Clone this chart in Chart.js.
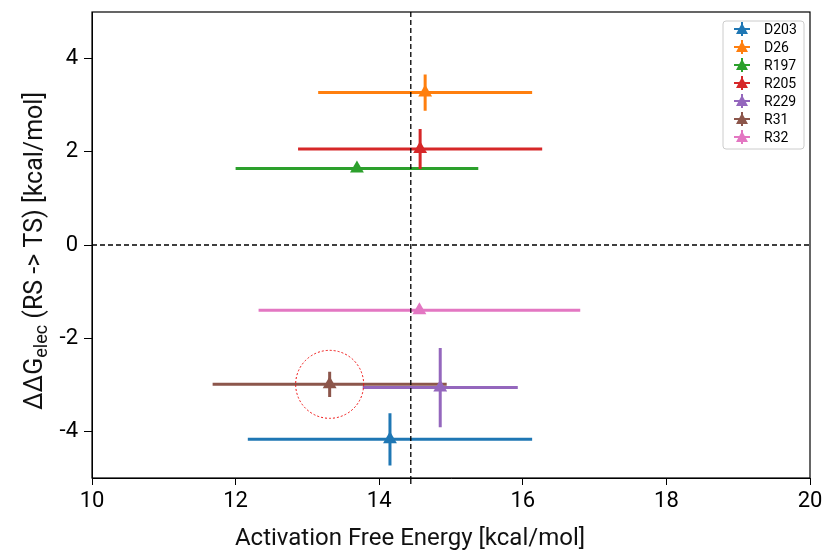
<!DOCTYPE html>
<html>
<head>
<meta charset="utf-8">
<script src="https://cdn.jsdelivr.net/npm/chart.js@4"></script>
<style>
  html, body { margin: 0; padding: 0; background: #fff; }
  #wrap { width: 823px; height: 550px; }
</style>
</head>
<body>
<div id="wrap"><canvas id="myChart" width="823" height="550"></canvas></div>
<script>
const labels = ["D203", "D26", "R197", "R205", "R229", "R31", "R32"];
const xValues = [14.15, 14.64, 13.69, 14.57, 14.85, 13.31, 14.56];
const yValues = [-4.17, 3.27, 1.64, 2.06, -3.06, -2.99, -1.40];
const xErrors = [1.98, 1.49, 1.69, 1.70, 1.08, 1.63, 2.24];
const yErrors = [0.56, 0.39, 0.05, 0.43, 0.85, 0.27, 0.05];
const pointColors = ["#1f77b4", "#ff7f0e", "#2ca02c", "#d62728", "#9467bd", "#8c564b", "#e377c2"];
const xTicks = [10, 12, 14, 16, 18, 20];
const yTicks = [-4, -2, 0, 2, 4];
const refX = 14.44;   // vertical dashed line
const refY = 0;       // horizontal dashed line
const circled = 5;    // index of the circled point (R31)

const FONT = "Roboto, 'DejaVu Sans', sans-serif";

const datasets = labels.map((name, i) => ({
    label: name,
    data: [{x: xValues[i], y: yValues[i]}],
    backgroundColor: pointColors[i],
    borderColor: pointColors[i],
    borderWidth: 0,
    pointStyle: "triangle",
    pointRadius: 8,
    showLine: false
}));

// error bars, drawn under the markers
const errorBars = {
    id: "errorBars",
    beforeDatasetsDraw(chart) {
        const ctx = chart.ctx, sx = chart.scales.x, sy = chart.scales.y;
        ctx.save();
        ctx.lineWidth = 3;
        labels.forEach((name, i) => {
            const px = sx.getPixelForValue(xValues[i]);
            const py = sy.getPixelForValue(yValues[i]);
            ctx.strokeStyle = pointColors[i];
            ctx.beginPath();
            ctx.moveTo(sx.getPixelForValue(xValues[i] - xErrors[i]), py);
            ctx.lineTo(sx.getPixelForValue(xValues[i] + xErrors[i]), py);
            ctx.moveTo(px, sy.getPixelForValue(yValues[i] - yErrors[i]));
            ctx.lineTo(px, sy.getPixelForValue(yValues[i] + yErrors[i]));
            ctx.stroke();
        });
        ctx.restore();
    }
};

// dashed reference lines, circle, frame, legend, axis titles
const extras = {
    id: "extras",
    afterDatasetsDraw(chart) {
        const ctx = chart.ctx, a = chart.chartArea;
        const sx = chart.scales.x, sy = chart.scales.y;
        ctx.save();

        // reference lines
        ctx.strokeStyle = "#000";
        ctx.lineWidth = 1.3;
        ctx.setLineDash([5, 3]);
        const vx = sx.getPixelForValue(refX);
        ctx.beginPath();
        ctx.moveTo(vx, a.top);
        ctx.lineTo(vx, a.bottom);
        const hy = sy.getPixelForValue(refY);
        ctx.moveTo(a.left, hy);
        ctx.lineTo(a.right, hy);
        ctx.stroke();
        ctx.setLineDash([]);
        ctx.beginPath();
        ctx.moveTo(vx, a.bottom);
        ctx.lineTo(vx, a.bottom + 6);
        ctx.stroke();

        // dotted circle around one point
        ctx.strokeStyle = "#ee1111";
        ctx.lineWidth = 1;
        ctx.setLineDash([2, 2]);
        ctx.beginPath();
        ctx.arc(sx.getPixelForValue(xValues[circled]), sy.getPixelForValue(yValues[circled]), 34, 0, Math.PI * 2);
        ctx.stroke();
        ctx.setLineDash([]);

        // frame
        ctx.strokeStyle = "#000";
        ctx.lineWidth = 1.2;
        ctx.strokeRect(a.left, a.top, a.right - a.left, a.bottom - a.top);

        // legend
        const lx = a.right - 87, ly = a.top + 9, lw = 81, lh = 128;
        ctx.fillStyle = "rgba(255,255,255,0.8)";
        ctx.strokeStyle = "#cccccc";
        ctx.lineWidth = 1;
        ctx.beginPath();
        ctx.roundRect(lx, ly, lw, lh, 3);
        ctx.fill();
        ctx.stroke();
        ctx.font = "14px " + FONT;
        ctx.textBaseline = "middle";
        ctx.textAlign = "left";
        chart.data.datasets.forEach((ds, i) => {
            const cy = ly + 8 + i * 18;
            const mx = lx + 19;
            ctx.strokeStyle = ds.borderColor;
            ctx.lineWidth = 2;
            ctx.beginPath();
            ctx.moveTo(mx - 8, cy); ctx.lineTo(mx + 8, cy);
            ctx.moveTo(mx, cy - 7); ctx.lineTo(mx, cy + 7);
            ctx.stroke();
            ctx.fillStyle = ds.backgroundColor;
            ctx.beginPath();
            ctx.moveTo(mx, cy - 6);
            ctx.lineTo(mx + 6, cy + 5);
            ctx.lineTo(mx - 6, cy + 5);
            ctx.closePath();
            ctx.fill();
            ctx.fillStyle = "#000";
            ctx.fillText(ds.label, lx + 41, cy + 1);
        });

        // x axis title
        ctx.fillStyle = "#111";
        ctx.font = "24px " + FONT;
        ctx.textAlign = "center";
        ctx.textBaseline = "alphabetic";
        ctx.fillText("Activation Free Energy [kcal/mol]", 410, 545);

        // y axis title with subscript
        ctx.textAlign = "left";
        ctx.translate(42, 251);
        ctx.rotate(-Math.PI / 2);
        const big = "25px " + FONT, small = "18px " + FONT;
        const parts = [["ΔΔG", big, 0], ["elec", small, 5], [" (RS -> TS) [kcal/mol]", big, 0]];
        let total = 0;
        parts.forEach(p => { ctx.font = p[1]; total += ctx.measureText(p[0]).width; });
        let x = -total / 2;
        parts.forEach(p => {
            ctx.font = p[1];
            ctx.fillText(p[0], x, p[2]);
            x += ctx.measureText(p[0]).width;
        });
        ctx.restore();
    }
};

const conf = {
    type: "scatter",
    data: { datasets: datasets },
    options: {
        responsive: false,
        animation: false,
        events: [],
        layout: { padding: { top: 12, right: 13, left: 0, bottom: 0 } },
        plugins: {
            legend: { display: false },
            tooltip: { enabled: false }
        },
        scales: {
            x: {
                type: "linear",
                min: 10, max: 20,
                afterBuildTicks: s => { s.ticks = xTicks.map(v => ({value: v})); },
                afterFit: s => { s.height = 72; s.paddingLeft = 0; s.paddingRight = 0; },
                grid: { drawOnChartArea: false, drawTicks: true, tickLength: 7, color: "#000" },
                border: { display: true, color: "#000", width: 1 },
                ticks: { color: "#000", padding: 3, maxRotation: 0, font: { family: FONT, size: 22 } }
            },
            y: {
                type: "linear",
                min: -5, max: 5,
                afterBuildTicks: s => { s.ticks = yTicks.map(v => ({value: v})); },
                afterFit: s => { s.width = 92; s.paddingTop = 0; s.paddingBottom = 0; },
                grid: { drawOnChartArea: false, drawTicks: true, tickLength: 8, color: "#000" },
                border: { display: true, color: "#000", width: 1 },
                ticks: { color: "#000", padding: 6, font: { family: FONT, size: 22 } }
            }
        }
    },
    plugins: [errorBars, extras]
};

const myChart = new Chart(document.getElementById("myChart"), conf);
</script>
</body>
</html>
